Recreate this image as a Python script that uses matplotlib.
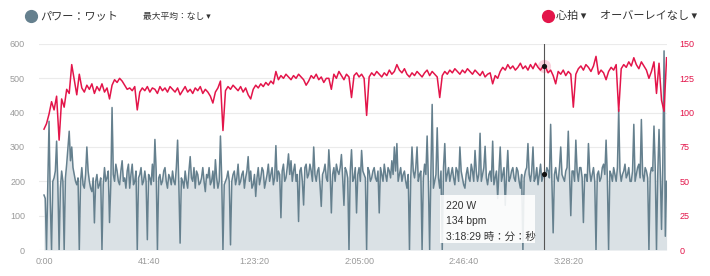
import numpy as np
import matplotlib
matplotlib.use("Agg")
import matplotlib.pyplot as plt
from matplotlib.patches import Rectangle

# ---------------- data ----------------
power_interval_s = 30
hr_interval_s = 60
power_w = [
    160, 150, 0, 190, 375, 140, 0, 200, 210, 230, 317, 190, 0, 180, 230, 200, 0, 210, 250, 300,
    346, 260, 300, 240, 220, 200, 190, 210, 0, 200, 240, 190, 180, 220, 300, 230, 200, 180, 170, 210,
    79, 200, 220, 180, 190, 210, 0, 190, 240, 200, 210, 230, 80, 190, 415, 220, 200, 250, 230, 200,
    190, 230, 260, 200, 210, 180, 230, 250, 180, 220, 250, 190, 200, 230, 0, 210, 220, 240, 190, 200,
    230, 200, 30, 220, 210, 190, 250, 200, 322, 230, 0, 210, 220, 190, 200, 230, 240, 200, 180, 220,
    210, 190, 230, 200, 190, 240, 320, 190, 20, 210, 200, 180, 230, 200, 180, 230, 272, 210, 200, 240,
    180, 230, 220, 190, 195, 210, 240, 200, 170, 220, 210, 240, 190, 200, 230, 180, 263, 210, 180, 200,
    332, 210, 0, 190, 200, 210, 230, 200, 15, 200, 220, 230, 190, 210, 250, 190, 200, 220, 230, 180,
    210, 230, 272, 200, 230, 180, 190, 220, 156, 210, 240, 190, 210, 240, 230, 180, 200, 220, 250, 200,
    220, 240, 190, 210, 304, 200, 230, 220, 94, 230, 250, 200, 210, 240, 280, 220, 260, 200, 230, 250,
    200, 220, 83, 230, 240, 200, 131, 240, 250, 210, 220, 250, 230, 200, 300, 220, 200, 230, 240, 190,
    127, 220, 230, 250, 210, 200, 292, 230, 108, 220, 240, 200, 250, 230, 220, 240, 278, 210, 130, 240,
    230, 210, 0, 230, 292, 200, 210, 240, 108, 220, 240, 200, 290, 230, 220, 210, 0, 240, 230, 200,
    210, 230, 240, 210, 200, 230, 108, 240, 220, 200, 250, 220, 200, 240, 230, 210, 260, 220, 300, 230,
    310, 200, 220, 240, 200, 220, 230, 200, 180, 220, 0, 210, 300, 230, 210, 240, 300, 200, 220, 230,
    0, 210, 250, 220, 332, 200, 0, 230, 424, 180, 200, 220, 356, 210, 180, 230, 0, 240, 310, 200,
    220, 240, 200, 220, 240, 210, 190, 240, 230, 200, 300, 230, 210, 190, 180, 220, 240, 210, 200, 250,
    230, 200, 290, 230, 200, 220, 340, 200, 220, 240, 302, 210, 190, 220, 230, 200, 317, 190, 210, 230,
    150, 230, 300, 200, 220, 240, 130, 220, 290, 200, 210, 230, 240, 210, 200, 240, 230, 200, 180, 220,
    0, 210, 230, 240, 310, 220, 200, 230, 300, 200, 210, 240, 190, 220, 250, 200, 215, 220, 215, 240,
    230, 210, 366, 200, 50, 220, 240, 210, 200, 240, 300, 220, 210, 200, 230, 240, 346, 220, 100, 230,
    230, 200, 320, 230, 200, 240, 240, 210, 80, 220, 220, 200, 310, 230, 200, 220, 240, 200, 0, 220,
    230, 200, 210, 240, 250, 220, 320, 210, 0, 230, 220, 200, 240, 220, 200, 240, 410, 230, 200, 220,
    230, 250, 210, 220, 240, 200, 200, 230, 366, 200, 220, 240, 250, 210, 380, 220, 200, 240, 230, 210,
    0, 220, 240, 230, 361, 240, 0, 220, 351, 230, 60, 250, 580, 40, 200,
]
heart_rate_bpm = [
    88, 92, 99, 108, 102, 112, 80, 110, 104, 117,
    114, 135, 124, 113, 128, 118, 115, 120, 117, 121,
    114, 119, 116, 121, 115, 118, 110, 120, 124, 122,
    125, 123, 120, 117, 118, 116, 119, 102, 115, 118,
    116, 119, 115, 118, 117, 114, 119, 116, 118, 115,
    119, 117, 115, 118, 113, 116, 119, 115, 117, 114,
    118, 116, 119, 114, 117, 115, 112, 107, 115, 118,
    123, 87, 116, 119, 117, 120, 118, 116, 119, 115,
    118, 113, 110, 117, 120, 118, 121, 119, 122, 120,
    123, 121, 130, 124, 127, 125, 128, 126, 124, 127,
    125, 128, 126, 124, 120, 123, 127, 125, 128, 124,
    126, 122, 125, 125, 117, 128, 125, 130, 127, 124,
    128, 126, 111, 127, 129, 126, 128, 125, 98, 126,
    129, 127, 130, 128, 126, 129, 127, 131, 128, 130,
    135, 131, 129, 132, 128, 126, 129, 127, 130, 128,
    126, 129, 131, 127, 130, 128, 126, 111, 127, 130,
    128, 131, 129, 132, 130, 128, 131, 129, 132, 130,
    128, 131, 129, 127, 130, 126, 128, 129, 121, 127,
    125, 130, 133, 131, 135, 132, 134, 131, 133, 136,
    132, 134, 131, 135, 132, 136, 133, 131, 134, 133,
    129, 131, 127, 121, 130, 128, 131, 127, 130, 128,
    104, 128, 132, 134, 131, 135, 133, 130, 134, 141,
    128, 131, 129, 124, 130, 133, 131, 135, 101, 132,
    135, 133, 137, 134, 140, 135, 132, 137, 134, 131,
    125, 130, 137, 114, 136, 109, 101, 140,
]
x_tick_seconds = [0, 2500, 5000, 7500, 10000, 12500]
x_tick_labels = ["0:00", "41:40", "1:23:20", "2:05:00", "2:46:40", "3:28:20"]
power_ticks = [0, 100, 200, 300, 400, 500, 600]
hr_ticks = [0, 25, 50, 75, 100, 125, 150]
cursor_time_s = 11909
cursor_power_w = 220
cursor_hr_bpm = 134
cursor_label = "3:18:29 時：分：秒"

power_label = "パワー：ワット"
max_avg_label = "最大平均：なし ▾"
hr_label = "心拍 ▾"
overlay_label = "オーバーレイなし ▾"

# ---------------- style ----------------
POWER_COLOR = "#65808e"
FILL_COLOR = "#dae1e5"
HR_COLOR = "#e3154a"
GRID_COLOR = "#ebebeb"
TICK_COLOR = "#9a9a9a"
JP_FONT = ["Noto Sans CJK JP", "DejaVu Sans"]

W, H = 710, 276
fig = plt.figure(figsize=(W / 100, H / 100), dpi=100)
fig.patch.set_facecolor("white")

ax = fig.add_axes([39 / W, 26 / H, (667 - 39) / W, (250 - 44) / H])
ax2 = ax.twinx()

t = np.arange(len(power_w)) * power_interval_s
th = np.arange(len(heart_rate_bpm)) * hr_interval_s

ax.fill_between(t, power_w, 0, color=FILL_COLOR, lw=0, zorder=1)
ax.plot(t, power_w, color=POWER_COLOR, lw=1.1, zorder=2)
ax2.plot(th, heart_rate_bpm, color=HR_COLOR, lw=1.1, zorder=2)

ax.set_xlim(-119, 14830)
ax.set_ylim(0, 600)
ax2.set_ylim(0, 150)

ax.set_yticks(power_ticks)
ax2.set_yticks(hr_ticks)
ax.set_xticks(x_tick_seconds)
ax.set_xticklabels(x_tick_labels)

ax.grid(axis="y", color=GRID_COLOR, lw=0.8, zorder=0)
ax.set_axisbelow(True)
for a in (ax, ax2):
    for s in a.spines.values():
        s.set_visible(False)
    a.tick_params(length=0)
ax.tick_params(axis="y", labelsize=6.5, labelcolor=TICK_COLOR, pad=10)
ax.tick_params(axis="x", labelsize=6.5, labelcolor=TICK_COLOR, pad=5)
ax2.tick_params(axis="y", labelsize=6.5, labelcolor=HR_COLOR, pad=9)
for lab in ax.get_yticklabels() + ax.get_xticklabels() + ax2.get_yticklabels():
    lab.set_family(["Liberation Sans", "DejaVu Sans"])

# cursor
ax2.axvline(cursor_time_s, color="#555555", lw=0.8, zorder=5)
ax2.scatter([cursor_time_s], [cursor_hr_bpm], s=90, color=HR_COLOR, alpha=0.18, lw=0, zorder=5)
ax2.scatter([cursor_time_s], [cursor_hr_bpm], s=14, color="#111111", lw=0, zorder=6)
ax2.scatter([cursor_time_s], [cursor_power_w * 150 / 600], s=14, color="#111111", lw=0, zorder=6)

# tooltip (figure pixel coordinates)
tip = Rectangle((440 / W, (H - 243) / H), 95 / W, 48 / H, transform=fig.transFigure,
                facecolor="white", edgecolor="none", alpha=0.88, zorder=10)
fig.patches.append(tip)
tip_lines = [f"{cursor_power_w} W", f"{cursor_hr_bpm} bpm", cursor_label]
for k, txt in enumerate(tip_lines):
    fig.text(446 / W, (H - 206 - 15.5 * k) / H, txt, fontsize=7.5, color="#333333",
             va="center", ha="left", family=["Liberation Sans", "Noto Sans CJK JP"], zorder=11)

# header legend
fig.add_artist(plt.Line2D([31 / W], [(H - 16) / H], marker="o", markersize=8.5,
                          color=POWER_COLOR, transform=fig.transFigure))
fig.text(40 / W, (H - 16) / H, power_label, fontsize=8, color="#333333",
         va="center", ha="left", family=JP_FONT)
fig.text(143 / W, (H - 16.5) / H, max_avg_label, fontsize=6.3, color="#333333",
         va="center", ha="left", family=JP_FONT)
fig.add_artist(plt.Line2D([548 / W], [(H - 16) / H], marker="o", markersize=8.5,
                          color=HR_COLOR, transform=fig.transFigure))
fig.text(556 / W, (H - 16) / H, hr_label, fontsize=8, color="#333333",
         va="center", ha="left", family=JP_FONT)
fig.text(697 / W, (H - 16) / H, overlay_label, fontsize=8, color="#333333",
         va="center", ha="right", family=JP_FONT)

fig.savefig("out.png", dpi=100, facecolor="white")
